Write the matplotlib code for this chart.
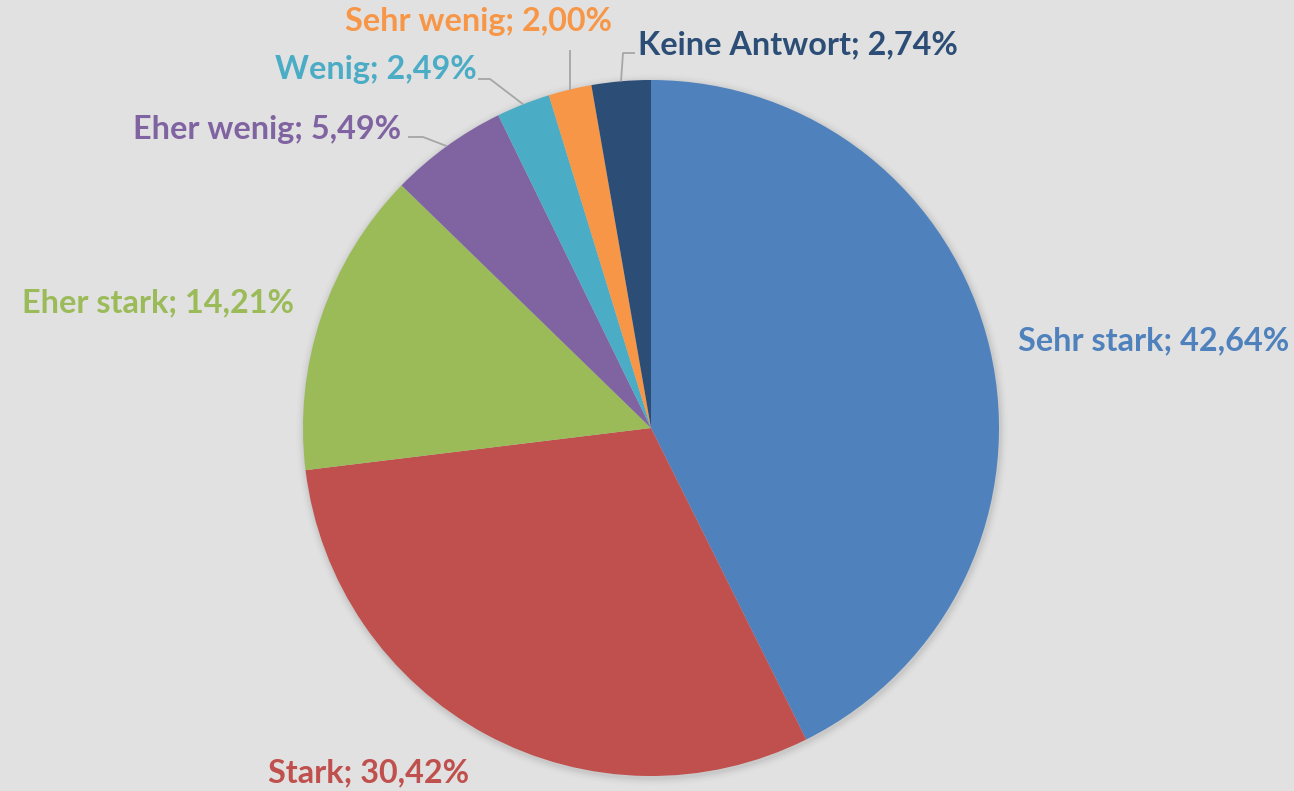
import numpy as np
import matplotlib
matplotlib.use("Agg")
import matplotlib.pyplot as plt
from matplotlib.patches import Circle

categories = ["Sehr stark", "Stark", "Eher stark", "Eher wenig", "Wenig", "Sehr wenig", "Keine Antwort"]
values = [42.64, 30.42, 14.21, 5.49, 2.49, 2.00, 2.74]
colors = ["#4F81BD", "#C0504D", "#9BBB59", "#8064A2", "#4BACC6", "#F79646", "#2C4D75"]

W, H = 1294, 791
fig = plt.figure(figsize=(W / 100, H / 100), dpi=100)
bg = "#E1E1E1"
fig.patch.set_facecolor(bg)
ax = fig.add_axes([0, 0, 1, 1])
ax.set_facecolor(bg)

cx, cy, R = 651, 428, 348

# soft shadow
for i, a in enumerate([0.05, 0.04, 0.03, 0.02, 0.012]):
    ax.add_patch(Circle((cx + 1, cy + 2), R + 1.5 + i * 1.6, color="#505050", alpha=a, lw=0, zorder=0))

# y axis is inverted below, so counterclockwise in data = clockwise on screen
wedges, _ = ax.pie(values, colors=colors, startangle=-90, counterclock=True,
                   center=(cx, cy), radius=R, frame=True,
                   wedgeprops=dict(linewidth=0))
ax.set_xlim(0, W)
ax.set_ylim(H, 0)
ax.set_aspect("equal")
ax.axis("off")

# Label layout: (x anchor, y center)
label_pos = [
    (1018, 341),
    (268, 773),
    (22, 303),
    (133, 130),
    (275, 70),
    (345, 22),
    (638, 45),
]
font = dict(family=["Lato", "DejaVu Sans"], weight="bold", fontsize=23.3)
for cat, v, col, (x, y) in zip(categories, values, colors, label_pos):
    txt = f"{cat}; {v:.2f}%".replace(".", ",")
    ax.text(x, y, txt, color=col, ha="left", va="center", **font)

# leader lines for small slices
line_col = "#A6A6A6"
cum = np.cumsum([0] + values)
def edge_point(i):
    mid = (cum[i] + cum[i + 1]) / 2 / sum(values) * 360
    ang = np.deg2rad(90 - mid)  # clockwise from top
    return cx + R * np.cos(ang), cy - R * np.sin(ang)

leaders = {
    3: [(408, 137), (423, 137)],
    4: [(478, 79), (490, 79)],
    5: [(570, 50)],
    6: [(635, 53), (623, 53)],
}
for i, pts in leaders.items():
    ex, ey = edge_point(i)
    xs = [p[0] for p in pts] + [ex]
    ys = [p[1] for p in pts] + [ey]
    if i == 5:
        xs[-1] = pts[0][0]
    if i == 6:
        xs[-1] = pts[-1][0] - 2
    ax.plot(xs, ys, color=line_col, lw=1.3, zorder=5, solid_capstyle="butt")

fig.savefig("out.png", dpi=100, facecolor=bg)
